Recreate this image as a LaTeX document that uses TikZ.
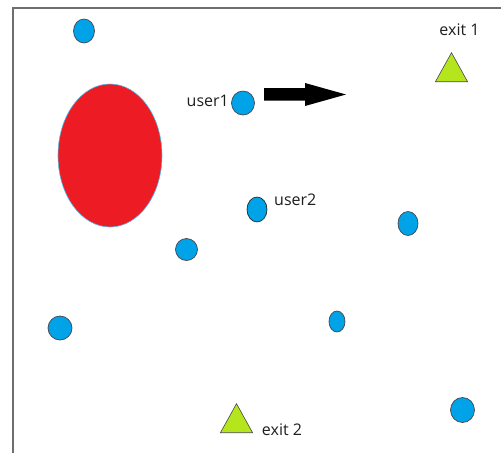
\documentclass[tikz,border=0pt]{standalone}
\usepackage{fontspec}
\setmainfont{Open Sans}
\usetikzlibrary{shapes.geometric}
\definecolor{dotblue}{RGB}{0,162,232}
\definecolor{dotedge}{RGB}{70,70,80}
\definecolor{obsred}{RGB}{237,28,36}
\definecolor{exitgreen}{RGB}{181,230,29}
\definecolor{framegray}{RGB}{110,110,110}
\definecolor{txt}{RGB}{30,30,30}
\begin{document}
\begin{tikzpicture}[x=1pt,y=-1pt,
  dot/.style={ellipse,fill=dotblue,draw=dotedge,line width=0.7pt,inner sep=0pt,minimum width=#1},
  exitmark/.style={isosceles triangle,isosceles triangle apex angle=58,shape border rotate=90,fill=exitgreen,draw=dotedge,line width=0.6pt,inner sep=0pt,minimum height=29pt},
  lbl/.style={font=\fontsize{16}{18}\selectfont,text=txt,inner sep=0pt}]
\useasboundingbox (0,0) rectangle (501,453);
\draw[framegray,line width=1.3pt] (501,8) -- (13,8) -- (13,453);
% obstacle
\node[ellipse,fill=obsred,draw=dotblue!70,line width=0.6pt,inner sep=0pt,minimum width=104pt,minimum height=143pt] (obs) at (110,155.5) {};
% dots
\node[dot=21pt,minimum height=24pt] (d1) at (84,31) {};
\node[dot=23pt,minimum height=24pt] (u1) at (243,103) {};
\node[dot=20pt,minimum height=25pt,draw=black!85] (u2) at (257,209.5) {};
\node[dot=22pt,minimum height=22pt] (d2) at (186.5,249.5) {};
\node[dot=20pt,minimum height=24pt] (d3) at (408,223.5) {};
\node[dot=24pt,minimum height=24pt] (d4) at (60,328) {};
\node[dot=16pt,minimum height=21pt] (d5) at (337,321.5) {};
\node[dot=24pt,minimum height=25pt] (d6) at (462.5,410) {};
% labels
\node[lbl,anchor=east] (l1) at (229,101) {user1};
\node[lbl,anchor=west] (l2) at (274,200) {user2};
% arrow
\fill[black] (264,88) -- (305,88) -- (305,83) -- (346,94.5) -- (305,106) -- (305,100.5) -- (264,100.5) -- cycle;
% exits
\node[exitmark,anchor=south] (e1) at (451.5,82) {};
\node[lbl] (e1l) at (459.5,29.5) {exit 1};
\node[exitmark,anchor=south] (e2) at (236.5,433) {};
\node[lbl] (e2l) at (282,430) {exit 2};
\end{tikzpicture}
\end{document}
